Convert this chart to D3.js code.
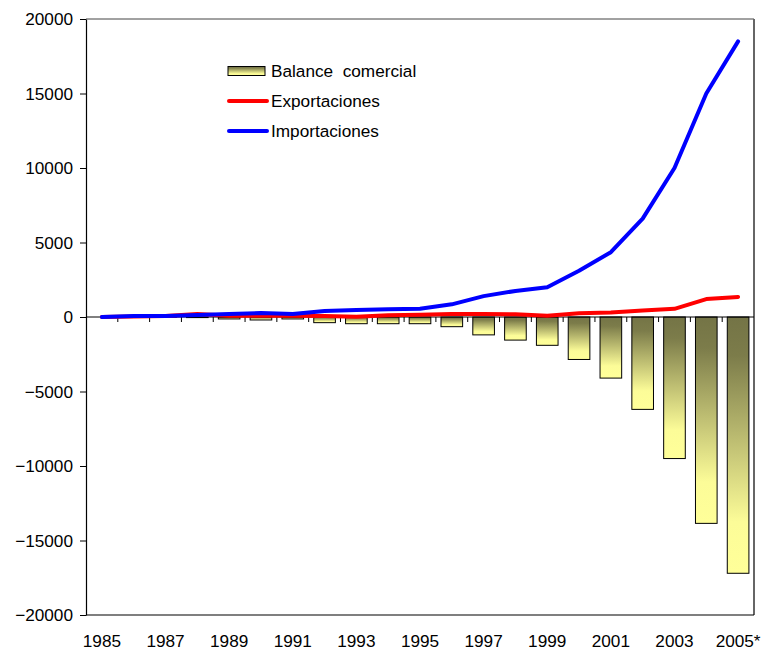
<!DOCTYPE html>
<html>
<head>
<meta charset="utf-8">
<script src="https://cdn.jsdelivr.net/npm/d3@7"></script>
<style>
  body { margin: 0; background: #fff; }
  svg text { font-family: "Liberation Sans", Arial, sans-serif; font-size: 17.2px; fill: #000; }
</style>
</head>
<body>
<svg id="chart"></svg>
<script>
const width = 764;
const height = 651;
const margin = {top: 19, right: 10, bottom: 36, left: 86};
const fontSize = "17.2px";

// Data (millones)
const years = ['1985', '1986', '1987', '1988', '1989', '1990', '1991', '1992', '1993', '1994',
    '1995', '1996', '1997', '1998', '1999', '2000', '2001', '2002', '2003', '2004', '2005*'];
const balance = [0, -10, -20, -40, -130, -200, -130, -380, -450, -450,
    -450, -650, -1200, -1550, -1900, -2850, -4100, -6200, -9500, -13850, -17200];
const exportaciones = [0, 40, 60, 200, 90, 80, 80, 60, 20, 120,
    150, 200, 200, 180, 90, 250, 300, 430, 550, 1200, 1350];
const importaciones = [0, 60, 70, 130, 200, 270, 200, 400, 470, 520,
    560, 850, 1400, 1750, 2000, 3100, 4350, 6600, 10000, 15000, 18500];
const yTicks = [-20000, -15000, -10000, -5000, 0, 5000, 10000, 15000, 20000];
const xLabels = ['1985', '1987', '1989', '1991', '1993', '1995', '1997', '1999', '2001', '2003', '2005*'];
const legendItems = ['Balance  comercial', 'Exportaciones', 'Importaciones'];

const innerW = width - margin.left - margin.right;
const innerH = height - margin.top - margin.bottom;

const svg = d3.select("#chart")
    .attr("width", width)
    .attr("height", height);

const defs = svg.append("defs");
const grad = defs.append("linearGradient")
    .attr("id", "barGrad")
    .attr("x1", 0).attr("y1", 0).attr("x2", 0).attr("y2", 1);
grad.append("stop").attr("offset", "0").attr("stop-color", "#747446");
grad.append("stop").attr("offset", "0.15").attr("stop-color", "#7c7c4a");
grad.append("stop").attr("offset", "0.8").attr("stop-color", "#fcfc98");
grad.append("stop").attr("offset", "1").attr("stop-color", "#ffff99");

const g = svg.append("g")
    .attr("transform", `translate(${margin.left},${margin.top})`);

const x = d3.scaleBand()
    .domain(years)
    .range([0, innerW])
    .paddingInner(0.32)
    .paddingOuter(0.16);

const y = d3.scaleLinear()
    .domain([-20000, 20000])
    .range([innerH, 0]);

// plot frame
g.append("line")
    .attr("x1", 0).attr("x2", innerW)
    .attr("y1", 0).attr("y2", 0)
    .style("stroke", "#444").style("stroke-width", 1);
g.append("line")
    .attr("x1", innerW).attr("x2", innerW)
    .attr("y1", 0).attr("y2", innerH)
    .style("stroke", "#666").style("stroke-width", 2);
g.append("line")
    .attr("x1", 0).attr("x2", innerW)
    .attr("y1", innerH).attr("y2", innerH)
    .style("stroke", "#000").style("stroke-width", 1.2);

// bars
g.selectAll(".bar")
    .data(years)
    .enter()
    .append("rect")
    .attr("class", "bar")
    .attr("x", d => x(d))
    .attr("y", y(0))
    .attr("width", x.bandwidth())
    .attr("height", (d, i) => y(balance[i]) - y(0))
    .style("fill", "url(#barGrad)")
    .style("stroke", "#000")
    .style("stroke-width", 1);

// zero line with category boundary ticks
g.append("line")
    .attr("x1", 0).attr("x2", innerW)
    .attr("y1", y(0)).attr("y2", y(0))
    .style("stroke", "#000").style("stroke-width", 1);

g.selectAll(".cat-tick")
    .data(years.slice(1))
    .enter()
    .append("line")
    .attr("class", "cat-tick")
    .attr("x1", d => x(d) + x.bandwidth() / 2 - x.step() / 2)
    .attr("x2", d => x(d) + x.bandwidth() / 2 - x.step() / 2)
    .attr("y1", y(0))
    .attr("y2", y(0) + 5)
    .style("stroke", "#000").style("stroke-width", 1);

// lines
const line = d3.line()
    .x((d, i) => x(years[i]) + x.bandwidth() / 2)
    .y(d => y(d));

g.append("path")
    .datum(exportaciones)
    .attr("d", line)
    .style("fill", "none")
    .style("stroke", "#ff0000")
    .style("stroke-width", 4)
    .style("stroke-linejoin", "round")
    .style("stroke-linecap", "round");

g.append("path")
    .datum(importaciones)
    .attr("d", line)
    .style("fill", "none")
    .style("stroke", "#0000ff")
    .style("stroke-width", 4)
    .style("stroke-linejoin", "round")
    .style("stroke-linecap", "round");

// y axis
const yAxis = g.append("g")
    .call(d3.axisLeft(y).tickValues(yTicks).tickSize(6).tickSizeOuter(0).tickPadding(7).tickFormat(d3.format("d")));
yAxis.select(".domain").style("stroke", "#000").style("stroke-width", 1.2);
yAxis.selectAll(".tick line").style("stroke", "#000");
yAxis.selectAll("text").style("font-size", fontSize).style("font-family", "Liberation Sans, Arial, sans-serif");

// x labels
const xAxis = g.append("g")
    .attr("transform", `translate(0,${innerH})`)
    .call(d3.axisBottom(x).tickValues(xLabels).tickSize(0).tickPadding(20));
xAxis.select(".domain").remove();
xAxis.selectAll("text").style("font-size", fontSize).style("font-family", "Liberation Sans, Arial, sans-serif");

// legend
const legend = svg.append("g")
    .attr("transform", "translate(228,71)");

legendItems.forEach((name, i) => {
    const row = legend.append("g").attr("transform", `translate(0,${i * 30})`);
    if (i === 0) {
        row.append("rect")
            .attr("x", 0).attr("y", -4.5)
            .attr("width", 37).attr("height", 9)
            .style("fill", "url(#barGrad)")
            .style("stroke", "#000").style("stroke-width", 1);
    } else {
        row.append("line")
            .attr("x1", 1).attr("x2", 39)
            .attr("y1", 0).attr("y2", 0)
            .style("stroke", i === 1 ? "#ff0000" : "#0000ff")
            .style("stroke-width", 4)
            .style("stroke-linecap", "round");
    }
    row.append("text")
        .attr("x", 43)
        .attr("y", 6)
        .text(name)
        .style("white-space", "pre");
});
</script>
</body>
</html>
